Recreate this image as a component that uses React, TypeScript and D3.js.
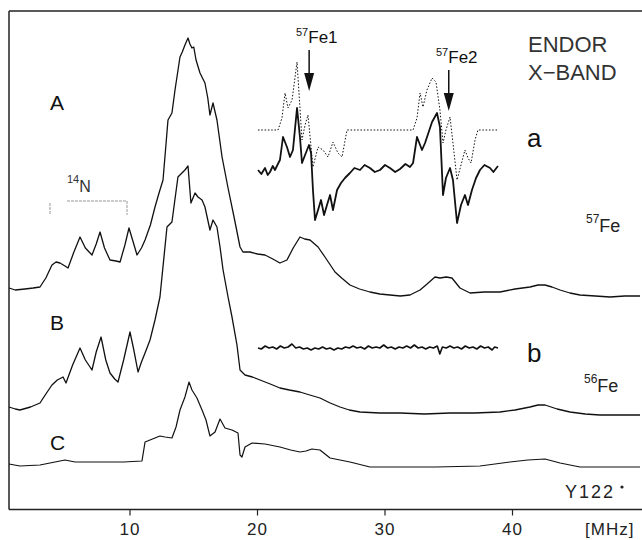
import React from "react";
import * as d3 from "d3";

// ENDOR spectra: frequency [MHz], intensity (arbitrary units, offset per trace)
const traceA: [number, number][] = [
  [0.51, 222], [1.0, 220], [1.76, 221], [2.4, 222], [2.94, 223], [3.4, 232], [3.88, 245], [4.2, 248], [4.51, 247], [4.9, 244], [5.14, 242],
  [5.6, 258], [6.08, 273], [6.5, 262], [7.02, 255], [7.35, 266], [7.65, 278], [8.0, 262], [8.43, 250], [8.9, 249], [9.22, 248],
  [9.6, 265], [9.92, 282], [10.25, 268], [10.55, 255], [10.9, 262], [11.18, 270], [11.6, 285], [11.96, 303], [12.3, 318], [12.59, 330],
  [12.98, 390], [13.29, 397], [13.53, 420], [13.92, 453], [14.1, 458], [14.31, 465], [14.55, 472], [14.7, 466], [14.86, 462],
  [15.0, 463], [15.18, 450], [15.49, 437], [15.88, 427], [16.1, 412], [16.27, 395], [16.51, 407], [16.82, 390], [17.22, 353],
  [17.69, 322], [18.16, 293], [18.63, 263], [18.86, 258], [19.41, 258], [20.0, 256], [20.59, 255], [21.2, 251], [21.76, 247],
  [22.31, 250], [22.8, 262], [23.33, 273], [23.7, 271], [24.12, 270], [24.75, 263], [25.29, 253], [26.08, 238], [26.6, 232],
  [27.25, 225], [28.0, 221], [28.82, 218], [29.6, 216], [30.39, 215], [31.2, 214], [31.96, 215], [32.75, 220], [33.3, 226],
  [33.92, 233], [34.31, 232], [34.8, 233], [35.25, 232], [35.88, 222], [36.67, 217], [37.8, 218], [39.02, 218], [40.2, 221],
  [41.37, 223], [42.0, 225], [42.55, 225], [43.1, 223], [43.73, 220], [44.5, 217], [45.29, 215], [46.5, 214], [47.65, 213],
  [48.8, 214], [50.0, 214],
];

const traceB: [number, number][] = [
  [0.51, 103], [1.0, 101], [1.37, 100], [2.2, 103], [2.94, 107], [3.4, 116], [3.88, 125], [4.3, 130], [4.75, 133], [4.98, 127],
  [5.5, 145], [6.08, 162], [6.5, 150], [7.02, 140], [7.35, 158], [7.73, 173], [8.1, 150], [8.43, 137], [8.8, 131], [9.06, 128],
  [9.5, 150], [10.0, 178], [10.3, 160], [10.63, 138], [10.9, 148], [11.18, 157], [11.57, 170], [11.96, 190], [12.35, 213],
  [12.9, 283], [13.29, 288], [13.76, 333], [14.31, 340], [14.55, 344], [14.78, 307], [15.1, 317], [15.33, 313], [15.65, 310],
  [15.88, 303], [16.27, 280], [16.51, 290], [16.82, 283], [17.06, 263], [17.3, 240], [17.69, 213], [18.0, 193], [18.39, 165],
  [18.63, 140], [19.02, 135], [19.6, 133], [20.2, 130], [21.0, 126], [21.76, 122], [22.5, 120], [23.33, 118], [24.1, 115],
  [24.9, 112], [25.7, 107], [26.47, 103], [27.2, 100], [28.04, 98], [29.6, 97], [31.18, 97], [33.1, 96], [35.1, 97], [37.0, 97],
  [39.02, 98], [40.2, 100], [41.37, 103], [42.0, 105], [42.55, 105], [43.5, 101], [44.51, 98], [45.7, 96], [46.86, 95],
  [48.5, 95], [50.0, 95],
];

const traceC: [number, number][] = [
  [0.51, 46], [1.37, 44], [2.94, 45], [4.12, 48], [4.9, 50], [5.69, 48], [7.65, 48], [9.5, 48], [10.94, 49], [11.18, 68],
  [11.57, 70], [12.35, 74], [12.75, 73], [13.29, 72], [13.61, 83], [13.92, 100], [14.31, 113], [14.63, 128], [14.86, 120],
  [15.25, 112], [15.65, 100], [15.96, 90], [16.27, 74], [16.67, 78], [17.06, 91], [17.45, 82], [18.0, 80], [18.47, 77],
  [18.63, 55], [18.78, 53], [19.02, 63], [19.57, 67], [20.59, 66], [21.76, 63], [22.6, 60], [23.33, 58], [23.8, 59],
  [24.27, 61], [24.9, 60], [25.69, 52], [27.25, 48], [28.82, 43], [31.18, 43], [34.0, 43], [37.45, 44], [39.8, 48],
  [41.2, 50], [42.55, 51], [43.73, 47], [45.29, 43], [47.5, 43], [50.0, 43],
];

// inset a: measured (solid) and simulated (dotted)
const insetMeasured: [number, number][] = [
  [20.04, 340], [20.3, 336], [20.59, 342], [20.8, 335], [20.98, 338], [21.2, 344], [21.37, 340], [21.6, 346], [21.76, 350],
  [22.0, 373], [22.31, 363], [22.55, 353], [22.78, 360], [23.1, 402], [23.33, 373], [23.49, 347], [23.73, 355], [24.04, 365],
  [24.2, 357], [24.35, 320], [24.51, 290], [24.75, 300], [24.98, 310], [25.22, 295], [25.45, 305], [25.69, 315], [25.92, 300],
  [26.24, 320], [26.55, 327], [26.86, 332], [27.25, 337], [27.6, 342], [28.04, 340], [28.4, 345], [28.82, 342], [29.2, 338],
  [29.61, 340], [30.0, 345], [30.39, 342], [30.8, 338], [31.18, 341], [31.6, 346], [31.96, 343], [32.2, 347], [32.51, 373],
  [32.75, 365], [32.9, 360], [33.14, 367], [33.69, 388], [34.08, 397], [34.31, 383], [34.55, 315], [34.78, 332], [35.1, 342],
  [35.33, 330], [35.65, 287], [35.96, 305], [36.27, 315], [36.51, 305], [36.82, 320], [37.14, 332], [37.45, 340], [37.8, 345],
  [38.24, 342], [38.5, 338], [38.86, 344],
];

const insetSimulated: [number, number][] = [
  [20.04, 380], [21.61, 380], [21.92, 392], [22.16, 417], [22.39, 402], [22.71, 410], [23.1, 448], [23.49, 370], [23.73, 385],
  [23.96, 395], [24.35, 343], [24.75, 363], [25.14, 360], [25.53, 353], [25.92, 368], [26.31, 357], [26.63, 353], [27.02, 380],
  [32.2, 380], [32.51, 392], [32.75, 417], [32.98, 403], [33.29, 420], [33.69, 432], [34.0, 428], [34.31, 400], [34.55, 367],
  [34.78, 380], [35.1, 393], [35.33, 367], [35.65, 330], [35.96, 345], [36.27, 360], [36.51, 352], [36.75, 347], [37.06, 370],
  [37.29, 380], [38.86, 380],
];

// inset b: 56Fe difference, flat noise
const insetFlat: [number, number][] = [
  [20.04, 162], [20.3, 161], [20.6, 164], [20.9, 162], [21.2, 163], [21.5, 161], [21.8, 164], [22.1, 162], [22.4, 163],
  [22.7, 166], [23.0, 162], [23.3, 163], [23.6, 161], [23.9, 162], [24.2, 160], [24.5, 162], [24.8, 161], [25.1, 163],
  [25.4, 161], [25.7, 162], [26.0, 160], [26.3, 162], [26.6, 161], [26.9, 163], [27.2, 162], [27.5, 164], [27.8, 162],
  [28.1, 163], [28.4, 161], [28.7, 164], [29.0, 162], [29.3, 163], [29.6, 162], [29.9, 165], [30.2, 162], [30.5, 163],
  [30.8, 161], [31.1, 163], [31.4, 162], [31.7, 164], [32.0, 162], [32.3, 165], [32.6, 162], [32.9, 163], [33.2, 161],
  [33.5, 163], [33.8, 162], [34.1, 164], [34.3, 156], [34.5, 163], [34.8, 162], [35.1, 164], [35.4, 162], [35.7, 163],
  [36.0, 161], [36.3, 164], [36.6, 162], [36.9, 163], [37.2, 161], [37.5, 164], [37.8, 162], [38.1, 163], [38.4, 160],
  [38.6, 163], [38.86, 162],
];

const tickValues = [10, 20, 30, 40];

const W = 642;
const H = 540;
const FONT = "'Liberation Sans', Arial, Helvetica, sans-serif";

export default function App() {
  const x = d3.scaleLinear().domain([0, 50]).range([2.5, 640]);
  const y = d3.scaleLinear().domain([0, 500]).range([510, 10]);
  const line = d3
    .line<[number, number]>()
    .x((d) => x(d[0]))
    .y((d) => y(d[1]))
    .curve(d3.curveLinear);

  const left = 9;
  const top = 11;
  const bottom = 509.5;

  return (
    <svg
      width={W}
      height={H}
      viewBox={`0 0 ${W} ${H}`}
      style={{ position: "absolute", left: 0, top: 0, background: "#fff" }}
      fontFamily={FONT}
    >
      <rect x={0} y={0} width={W} height={H} fill="#fff" />
      {/* frame */}
      <line x1={left} x2={W} y1={top} y2={top} stroke="#222" strokeWidth={1.5} />
      <line x1={left} x2={left} y1={top} y2={bottom} stroke="#222" strokeWidth={1.5} />
      <line x1={left} x2={W} y1={bottom} y2={bottom} stroke="#222" strokeWidth={1.5} />
      {tickValues.map((t) => (
        <g key={t}>
          <line x1={x(t)} x2={x(t)} y1={bottom} y2={bottom + 6} stroke="#222" strokeWidth={1.2} />
          <text x={x(t)} y={535} fontSize={17} textAnchor="middle" fill="#222" letterSpacing={1}>
            {t}
          </text>
        </g>
      ))}
      <text x={585} y={535} fontSize={17} fill="#222" letterSpacing={1}>[MHz]</text>

      {/* traces */}
      <path d={line(traceA) ?? ""} fill="none" stroke="#111" strokeWidth={1.3} strokeLinejoin="round" />
      <path d={line(traceB) ?? ""} fill="none" stroke="#111" strokeWidth={1.3} strokeLinejoin="round" />
      <path d={line(traceC) ?? ""} fill="none" stroke="#111" strokeWidth={1.2} strokeLinejoin="round" />
      <path d={line(insetSimulated) ?? ""} fill="none" stroke="#111" strokeWidth={1} strokeDasharray="1.5,1.8" />
      <path d={line(insetMeasured) ?? ""} fill="none" stroke="#111" strokeWidth={1.8} strokeLinejoin="round" />
      <path d={line(insetFlat) ?? ""} fill="none" stroke="#111" strokeWidth={1.6} strokeLinejoin="round" />

      {/* trace labels */}
      <text x={50} y={110} fontSize={21} fill="#111">A</text>
      <text x={50} y={330} fontSize={21} fill="#111">B</text>
      <text x={50} y={450} fontSize={21} fill="#111">C</text>

      {/* 14N bracket */}
      <path d="M50,203V215M67,201H127V215" fill="none" stroke="#999" strokeWidth={1} strokeDasharray="3,1" />
      <text x={67} y={192} fill="#333">
        <tspan fontSize={11} dy={-9}>14</tspan>
        <tspan fontSize={16} dy={9}>N</tspan>
      </text>

      {/* 57Fe1 / 57Fe2 labels and arrows */}
      <text x={296} y={43} fill="#111">
        <tspan fontSize={11} dy={-7}>57</tspan>
        <tspan fontSize={17} dy={7}>Fe1</tspan>
      </text>
      <line x1={x(24.05)} x2={x(24.05)} y1={50} y2={80} stroke="#111" strokeWidth={1.5} />
      <path d={`M${x(24.05) - 5},73L${x(24.05) + 5},73L${x(24.05)},91Z`} fill="#111" />

      <text x={436} y={63} fill="#111">
        <tspan fontSize={11} dy={-7}>57</tspan>
        <tspan fontSize={17} dy={7}>Fe2</tspan>
      </text>
      <line x1={x(35.0)} x2={x(35.0)} y1={70} y2={100} stroke="#111" strokeWidth={1.5} />
      <path d={`M${x(35.0) - 5},93L${x(35.0) + 5},93L${x(35.0)},111Z`} fill="#111" />

      {/* title */}
      <text x={528} y={52} fontSize={22} fill="#333">ENDOR</text>
      <text x={528} y={80} fontSize={22} fill="#333">X−BAND</text>

      {/* inset labels */}
      <text x={527} y={147} fontSize={26} fill="#111">a</text>
      <text x={527} y={362} fontSize={26} fill="#111">b</text>

      {/* isotope labels */}
      <text x={586} y={232} fill="#222">
        <tspan fontSize={12} dy={-9}>57</tspan>
        <tspan fontSize={18} dy={9}>Fe</tspan>
      </text>
      <text x={584} y={392} fill="#222">
        <tspan fontSize={12} dy={-9}>56</tspan>
        <tspan fontSize={18} dy={9}>Fe</tspan>
      </text>
      <text x={565} y={498} fontSize={18} fill="#222" letterSpacing={2}>Y122</text>
      <circle cx={622} cy={487} r={1.6} fill="#222" />
    </svg>
  );
}
